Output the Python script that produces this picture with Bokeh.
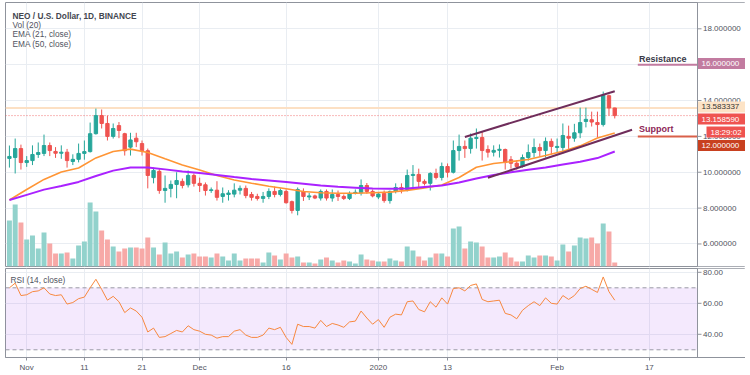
import pandas as pd
from bokeh.plotting import figure
from bokeh.layouts import column
from bokeh.models import (ColumnDataSource, Range1d, FixedTicker, Label, Span,
                          BoxAnnotation)
from bokeh.core.properties import value
from bokeh.embed import file_html
from bokeh.resources import INLINE

# ---------------- data ----------------
start_date = "2019-10-29"
open_ = [10.77, 10.82, 11.32, 10.54, 10.65, 10.99, 11.05, 11.49, 11.16, 11.06,
         11.12, 10.60, 10.72, 11.05, 11.15, 12.15, 13.16, 12.72, 12.00, 12.60,
         12.15, 11.40, 11.90, 11.60, 11.20, 9.70, 10.05, 8.98, 9.10, 9.32,
         9.49, 9.30, 9.82, 9.38, 9.30, 8.98, 9.00, 8.65, 8.76, 8.78,
         9.00, 9.10, 8.76, 8.65, 8.54, 8.65, 8.93, 8.76, 8.93, 8.36,
         7.87, 8.93, 8.62, 8.68, 8.56, 8.93, 8.56, 8.76, 8.65, 8.54,
         8.82, 8.85, 9.26, 8.93, 8.62, 8.82, 8.42, 8.93, 9.15, 9.04,
         9.82, 9.88, 9.49, 9.38, 9.93, 9.71, 10.32, 10.00, 11.21, 11.44,
         11.32, 11.88, 11.94, 11.27, 11.12, 11.22, 11.27, 10.70, 10.50, 10.32,
         10.82, 11.10, 11.38, 11.21, 11.72, 11.38, 11.38, 12.00, 11.90, 12.20,
         12.83, 12.93, 12.77, 12.66, 14.27, 13.583337]
high = [11.49, 11.88, 11.54, 10.90, 11.50, 11.66, 12.10, 11.66, 11.40, 11.50,
        11.30, 11.00, 11.60, 11.77, 12.77, 13.55, 13.50, 13.16, 12.72, 12.80,
        12.20, 12.20, 12.20, 11.77, 11.32, 10.26, 10.20, 9.82, 9.54, 10.00,
        9.65, 10.10, 9.93, 9.70, 9.43, 9.15, 9.50, 9.15, 9.00, 9.38,
        9.26, 9.26, 8.90, 8.80, 8.90, 9.10, 9.20, 9.10, 9.04, 8.42,
        9.15, 9.10, 8.85, 8.75, 9.04, 9.04, 9.04, 8.98, 8.76, 8.93,
        9.04, 9.60, 9.40, 9.04, 8.90, 8.98, 8.98, 9.38, 9.38, 10.15,
        10.40, 10.20, 9.60, 10.00, 10.20, 10.54, 10.49, 11.77, 12.10, 11.77,
        12.16, 12.44, 12.27, 11.50, 11.50, 11.55, 11.32, 10.90, 10.65, 10.99,
        11.55, 11.88, 11.60, 11.94, 11.88, 11.88, 12.72, 12.60, 12.70, 13.60,
        13.60, 13.38, 13.38, 14.50, 14.33, 13.60]
low = [10.26, 9.93, 10.15, 10.30, 10.40, 10.80, 10.90, 10.90, 10.80, 10.75,
       10.26, 10.40, 10.55, 10.70, 11.10, 12.10, 12.44, 11.77, 11.88, 11.90,
       10.93, 10.93, 11.40, 10.93, 9.10, 9.38, 8.80, 8.30, 8.60, 8.55,
       9.10, 9.15, 9.20, 8.90, 8.70, 8.85, 8.42, 8.30, 8.42, 8.60,
       8.76, 8.55, 8.42, 8.42, 8.30, 8.50, 8.60, 8.65, 8.25, 7.70,
       7.60, 8.40, 8.45, 8.50, 8.42, 8.42, 8.36, 8.40, 8.45, 8.45,
       8.76, 8.70, 8.80, 8.60, 8.50, 8.30, 8.25, 8.82, 8.82, 8.93,
       9.10, 9.10, 9.26, 8.98, 9.60, 9.54, 9.71, 9.93, 10.65, 10.80,
       11.04, 11.32, 10.65, 10.82, 10.88, 10.82, 10.15, 10.20, 10.15, 10.26,
       10.65, 10.82, 10.88, 10.82, 10.99, 11.10, 11.04, 11.30, 11.70, 11.90,
       12.50, 12.55, 11.94, 12.55, 13.16, 13.00]
close = [10.88, 11.32, 10.54, 10.65, 10.99, 11.10, 11.49, 11.21, 11.06, 11.12,
         10.65, 10.72, 11.05, 11.15, 12.15, 13.16, 12.72, 12.00, 12.44, 12.33,
         11.20, 11.80, 11.70, 11.20, 9.82, 10.10, 8.98, 9.10, 9.32, 9.54,
         9.26, 9.82, 9.38, 9.26, 8.98, 9.02, 8.60, 8.80, 8.84, 9.00,
         9.10, 8.70, 8.60, 8.54, 8.65, 8.93, 8.76, 8.98, 8.30, 7.87,
         9.04, 8.65, 8.68, 8.56, 8.93, 8.56, 8.76, 8.65, 8.54, 8.82,
         8.88, 9.26, 8.93, 8.68, 8.78, 8.42, 8.93, 9.15, 9.04, 9.82,
         9.88, 9.49, 9.38, 9.93, 9.71, 10.32, 10.00, 11.21, 11.44, 11.32,
         11.90, 11.94, 11.21, 11.12, 11.22, 11.28, 10.54, 10.50, 10.32, 10.82,
         11.10, 11.38, 11.21, 11.72, 11.44, 11.44, 12.05, 11.90, 12.20, 12.77,
         12.95, 12.80, 12.66, 14.30, 13.583337, 13.15859]
volume = [4.6, 6.2, 4.4, 2.7, 3.1, 1.8, 3.4, 2.3, 1.3, 1.3,
          1.4, 0.8, 2.1, 2.5, 6.4, 5.5, 3.6, 2.7, 2.0, 1.5,
          1.8, 1.9, 1.9, 1.8, 2.9, 1.9, 1.2, 2.4, 1.3, 1.5,
          0.9, 1.2, 1.3, 1.0, 1.0, 0.9, 1.3, 1.0, 0.6, 1.3,
          0.6, 0.8, 0.8, 0.8, 0.4, 1.4, 1.1, 0.7, 1.3, 0.9,
          1.0, 0.4, 0.4, 0.3, 0.7, 0.9, 0.6, 0.4, 0.6, 0.5,
          0.3, 1.2, 0.7, 0.6, 0.5, 0.5, 0.8, 0.6, 0.5, 2.0,
          1.6, 1.0, 0.6, 0.9, 1.3, 1.3, 1.0, 3.8, 4.0, 1.8,
          2.5, 2.4, 2.0, 0.9, 0.9, 1.0, 1.4, 0.9, 0.5, 0.5,
          1.1, 0.9, 1.1, 1.1, 1.0, 0.6, 2.2, 1.5, 2.1, 2.9,
          2.8, 2.9, 2.3, 4.3, 3.5, 0.4]
rsi = [70, 73, 65, 65.5, 67.5, 68, 70, 66, 65, 65.5,
       59.5, 60.5, 63, 64, 70, 75.5, 69, 62, 64.5, 61,
       54, 57, 55, 51, 41.5, 44, 38, 38.5, 40.5, 42.5,
       41.5, 45.5, 43, 42, 40, 39.5, 37.5, 38.5, 38.5, 42,
       43, 39.5, 38, 38, 39.5, 44, 43, 44.5, 38, 33.5,
       46.5, 45, 45, 44, 49, 45, 47, 46, 44.5, 48,
       48.5, 55, 50.5, 46.5, 49.5, 44.5, 51, 53, 52.5, 61,
       61.5, 56, 54.5, 61, 57.5, 63.5, 59.5, 69.5, 70, 68,
       71.5, 72.5, 62.5, 61, 61.5, 62, 53.5, 52.5, 50, 55.5,
       58.5, 61, 58.5, 63.5, 60, 59.5, 65, 62.5, 65, 69.5,
       71, 69, 67, 77, 67.5, 62]
# EMA values read at these candle positions
ema_idx = [0, 3, 6, 9, 12, 15, 18, 21, 24, 27, 30, 33, 36, 39, 42, 45, 48, 51,
           54, 57, 60, 63, 66, 69, 72, 75, 78, 81, 84, 87, 90, 93, 96, 99, 102, 105]
ema21 = [8.45, 9.04, 9.60, 10.01, 10.24, 10.80, 11.16, 11.29, 11.10, 10.75,
         10.41, 10.12, 9.82, 9.57, 9.39, 9.22, 9.08, 8.93, 8.86, 8.83,
         8.83, 8.86, 8.89, 8.99, 9.13, 9.29, 9.71, 10.28, 10.49, 10.59,
         10.71, 10.93, 11.17, 11.47, 11.91, 12.19]
ema50 = [8.45, 8.74, 9.03, 9.23, 9.46, 9.79, 10.09, 10.26, 10.27, 10.16,
         10.04, 9.96, 9.85, 9.73, 9.62, 9.54, 9.46, 9.36, 9.26, 9.19,
         9.14, 9.09, 9.08, 9.09, 9.18, 9.26, 9.43, 9.65, 9.85, 10.00,
         10.14, 10.26, 10.43, 10.58, 10.79, 11.16]
# drawn annotations
channel_upper_dates = ["2020-01-16", "2020-02-11"]
channel_upper_price = [11.97, 14.52]
channel_lower_dates = ["2020-01-20", "2020-02-14"]
channel_lower_price = [9.69, 12.37]
level_start_date = "2020-02-15"
resistance_price = 16.0
support_price = 12.0
prev_close_line = 13.583337
last_price = 13.15859
countdown = "18:29:02"
price_ticks = [6, 8, 10, 12, 14, 16, 18]
rsi_ticks = [40, 60, 80]
rsi_bands = [30, 70]
x_tick_dates = ["2019-11-01", "2019-11-11", "2019-11-21", "2019-12-01", "2019-12-16",
                "2020-01-01", "2020-01-13", "2020-02-01", "2020-02-17"]
x_tick_labels = ["Nov", "11", "21", "Dec", "16", "2020", "13", "Feb", "17"]

# ---------------- styling / geometry ----------------
FONT = "Liberation Sans"
GREEN, RED = "#26a69a", "#ef5350"
VGREEN, VRED = "#92d2cc", "#f7a9a7"
GRID = "#e9edf2"
BORDER = "#8f939c"
TXT = "#50535e"
PX_PER_DAY = 5.765
PX_PER_PRICE = 17.93
X0 = -3.68                      # left edge of the panes (days from 1 Nov 2019)
X1 = X0 + 740 / PX_PER_DAY      # right edge (outer border)
AX = X0 + 692 / PX_PER_DAY      # price-scale line
TICK = 4 / PX_PER_DAY
LAB = 5.5 / PX_PER_DAY

origin = pd.Timestamp("2019-11-01")


def day(s):
    return (pd.Timestamp(s) - origin) / pd.Timedelta(days=1)


dates = pd.date_range(start_date, periods=len(close), freq="D")
xd = [(d - origin) / pd.Timedelta(days=1) for d in dates]
up = [c >= o for o, c in zip(open_, close)]
src = ColumnDataSource(dict(
    x=xd, high=high, low=low, vol=volume,
    top=[max(o, c) for o, c in zip(open_, close)],
    bottom=[min(o, c) for o, c in zip(open_, close)],
    color=[GREEN if u else RED for u in up],
    vcolor=[VGREEN if u else VRED for u in up],
))
xt = [day(s) for s in x_tick_dates]


def price_scale(p, ticks, fmt):
    """white strip, scale line, tick marks and tick labels at the right of a pane"""
    p.add_layout(BoxAnnotation(left=AX, fill_color="white", fill_alpha=1,
                               line_color=None, level="underlay"))
    p.add_layout(Span(location=AX, dimension="height", line_color=BORDER, line_width=1))
    p.segment(x0=[AX] * len(ticks), x1=[AX + TICK] * len(ticks), y0=ticks, y1=ticks,
              line_color=BORDER, line_width=1)
    p.text(x=[AX + LAB] * len(ticks), y=ticks, text=[fmt % t for t in ticks],
           text_font=value(FONT), text_font_size="8px", text_color=TXT,
           text_baseline="middle", text_align="left")


# ---------------- main pane ----------------
p1 = figure(width=745, height=267, x_range=Range1d(X0, X1), y_range=Range1d(4.743, 19.467),
            output_backend="svg", toolbar_location=None,
            x_axis_location=None, y_axis_location=None,
            min_border_left=5, min_border_right=0, min_border_top=2, min_border_bottom=1,
            outline_line_color=BORDER, background_fill_color="white")
p1.extra_y_ranges = {"vol": Range1d(0, 26.4)}
p1.xgrid.ticker = FixedTicker(ticks=xt)
p1.ygrid.ticker = FixedTicker(ticks=price_ticks)
p1.xgrid.grid_line_color = GRID
p1.ygrid.grid_line_color = GRID

p1.add_layout(Span(location=prev_close_line, dimension="width", line_color="#fce0c4",
                   line_width=2, level="underlay"))
p1.add_layout(Span(location=last_price, dimension="width", line_color=RED, line_alpha=0.8,
                   line_dash="1 2", line_width=1, level="underlay"))
price_scale(p1, price_ticks, "%.6f")

p1.vbar(x="x", width=0.86, top="vol", bottom=0, y_range_name="vol",
        fill_color="vcolor", line_color=None, source=src)
p1.segment(x0="x", y0="high", x1="x", y1="low", line_color="color", line_width=1, source=src)
p1.vbar(x="x", width=0.58, top="top", bottom="bottom", fill_color="color",
        line_color="color", line_width=1, source=src)

ema_x = [xd[i] for i in ema_idx]
p1.line(ema_x, ema21, line_color="#ff9535", line_width=1.6)
p1.line(ema_x, ema50, line_color="#aa22ff", line_width=2)

CH = "#6f2d5b"
p1.line([day(s) for s in channel_upper_dates], channel_upper_price, line_color=CH, line_width=2)
p1.line([day(s) for s in channel_lower_dates], channel_lower_price, line_color=CH, line_width=2)

lx = [day(level_start_date), AX]
p1.line(lx, [resistance_price] * 2, line_color="#c27ba0", line_width=2)
p1.line(lx, [support_price] * 2, line_color="#d9604a", line_width=2)
p1.add_layout(Label(x=lx[0] + 0.2, y=resistance_price, y_offset=6, text="Resistance",
                    text_font=FONT, text_font_size="9px", text_font_style="bold",
                    text_color="#3a3a48", text_baseline="middle"))
p1.add_layout(Label(x=lx[0] + 0.2, y=support_price, y_offset=7, text="Support",
                    text_font=FONT, text_font_size="9px", text_font_style="bold",
                    text_color="#8e1f57", text_baseline="middle"))

# legend texts (top-left)
legend = [("NEO / U.S. Dollar, 1D, BINANCE", "bold", "#43464f", 251),
          ("Vol (20)", "normal", TXT, 242),
          ("EMA (21, close)", "normal", TXT, 232.5),
          ("EMA (50, close)", "normal", TXT, 223)]
for t, st, col, yy in legend:
    p1.add_layout(Label(x=7, y=yy, x_units="screen", y_units="screen", text=t,
                        text_font=FONT, text_font_size="8.3px", text_font_style=st,
                        text_color=col, text_baseline="middle"))

# price tags on the scale: (text, price, pixel shift up, left px from scale, width px, bg, fg)
tags = [(f"{resistance_price:.6f}", resistance_price, 1.2, 0, 48, "#c27ba0", "white"),
        (f"{prev_close_line:.6f}", prev_close_line, 1.0, 0, 48, "#fde3c6", "#333333"),
        (f"{last_price:.6f}", last_price, -3.4, 0, 48, RED, "white"),
        (countdown, last_price, -16.4, 9, 39, RED, "white"),
        (f"{support_price:.6f}", support_price, -9.1, 0, 48, "#c8401f", "white")]
tag_src = ColumnDataSource(dict(
    cx=[AX + (lft + w / 2) / PX_PER_DAY for _, _, _, lft, w, _, _ in tags],
    tx=[AX + (lft + 4) / PX_PER_DAY for _, _, _, lft, w, _, _ in tags],
    y=[pr + sh / PX_PER_PRICE for _, pr, sh, _, _, _, _ in tags],
    w=[w for _, _, _, _, w, _, _ in tags],
    text=[t for t, *_ in tags],
    bg=[t[5] for t in tags],
    fg=[t[6] for t in tags],
))
p1.rect(x="cx", y="y", width="w", height=11, width_units="screen", height_units="screen",
        fill_color="bg", line_color=None, source=tag_src)
p1.text(x="tx", y="y", text="text", text_font=value(FONT), text_font_size="8px",
        text_color="fg", text_baseline="middle", text_align="left", source=tag_src)

# ---------------- RSI pane ----------------
p2 = figure(width=745, height=108, x_range=p1.x_range, y_range=Range1d(25.03, 82.45),
            output_backend="svg", toolbar_location=None,
            x_axis_location="below", y_axis_location=None,
            min_border_left=5, min_border_right=0, min_border_top=1, min_border_bottom=18,
            outline_line_color=BORDER)
p2.xgrid.grid_line_color = GRID
p2.ygrid.ticker = FixedTicker(ticks=rsi_ticks)
p2.ygrid.grid_line_color = GRID
p2.add_layout(BoxAnnotation(bottom=rsi_bands[0], top=rsi_bands[1], right=AX,
                            fill_color="#b060f0", fill_alpha=0.14,
                            line_color=None, level="underlay"))
price_scale(p2, rsi_ticks, "%.2f")
for lv in rsi_bands:
    p2.line([X0, AX], [lv, lv], line_color="#9a9aa6", line_dash="4 3", line_width=1)
p2.line(xd, rsi, line_color="#f7883f", line_width=1)

xa = p2.xaxis[0]
xa.ticker = FixedTicker(ticks=xt)
xa.major_label_overrides = {t: lab for t, lab in zip(xt, x_tick_labels)}
xa.major_label_text_font = FONT
xa.major_label_text_font_size = "8px"
xa.major_label_text_color = TXT
xa.major_tick_out = 3
xa.major_tick_in = 0
xa.minor_tick_line_color = None
xa.axis_line_color = BORDER
xa.major_tick_line_color = BORDER
xa.major_label_standoff = 2

p2.add_layout(Label(x=5, y=78, x_units="screen", y_units="screen", text="RSI (14, close)",
                    text_font=FONT, text_font_size="8.3px", text_color=TXT,
                    text_baseline="middle"))

layout = column(p1, p2)
open("out.html", "w").write(file_html(layout, INLINE))
